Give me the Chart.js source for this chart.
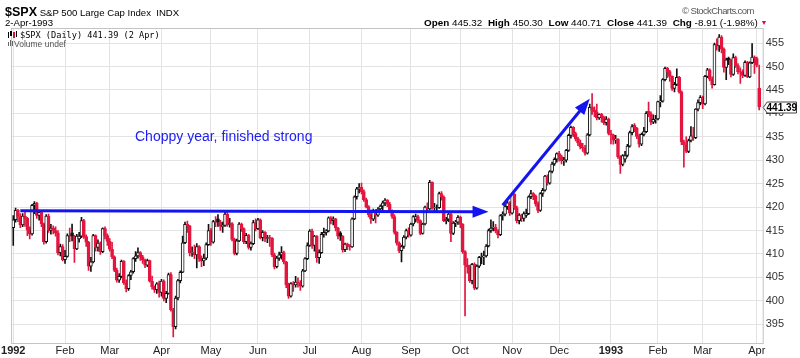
<!DOCTYPE html>
<html><head><meta charset="utf-8">
<script src="https://cdn.jsdelivr.net/npm/chart.js@4.4.1/dist/chart.umd.min.js"></script>
<style>
html,body{margin:0;padding:0;background:#fff;}
#wrap{position:relative;width:800px;height:358px;overflow:hidden;font-family:"Liberation Sans",Arial,sans-serif;color:#000;}
canvas{position:absolute;left:0;top:0;}
.t{position:absolute;white-space:nowrap;line-height:1;}
.i{position:absolute;}
.hd b{margin-left:3px;}
</style></head><body>
<div id="wrap">
<canvas id="c" width="800" height="358"></canvas>
<div class="t" style="left:5px;top:6px;font-size:9.6px;"><b style="font-size:12.5px;">$SPX</b> S&amp;P 500 Large Cap Index&nbsp; INDX</div>
<div class="t" style="left:5px;top:18px;font-size:9.6px;">2-Apr-1993</div>
<div class="t" style="left:682px;top:6px;font-size:9.5px;letter-spacing:-0.6px;color:#555;">© StockCharts.com</div>
<div class="t hd" style="left:421px;top:18px;font-size:9.9px;"><b>Open</b> 445.32 <b>High</b> 450.30 <b>Low</b> 440.71 <b>Close</b> 441.39 <b>Chg</b> -8.91 (-1.98%) <span style="color:#d0103a;font-size:7px;vertical-align:1px">▼</span></div>
<div class="i" style="left:8px;top:32px;width:1px;height:6px;background:#000"></div>
<div class="i" style="left:10px;top:31px;width:2px;height:5px;background:#000"></div>
<div class="i" style="left:13px;top:32px;width:2px;height:6px;background:#d0103a"></div>
<div class="i" style="left:16px;top:31px;width:1px;height:6px;background:#000"></div>
<div class="t" style="left:20px;top:31px;font-size:8.6px;font-family:'DejaVu Sans Mono','Liberation Mono',monospace;">$SPX (Daily) 441.39 (2 Apr)</div>
<div class="i" style="left:8px;top:42px;width:1px;height:4px;background:#666"></div>
<div class="i" style="left:10px;top:40px;width:1px;height:6px;background:#666"></div>
<div class="i" style="left:12px;top:41px;width:1px;height:5px;background:#666"></div>
<div class="t" style="left:14px;top:39.5px;font-size:8.5px;color:#555;">Volume undef</div>
<div class="t" style="left:135px;top:129px;font-size:14px;color:#1c1cf5;">Choppy year, finished strong</div>
</div>
<script>
// ---- daily OHLC values [open, high, low, close] ----
const jan92 = [
[415.6,418.2,411.8,417.3],[417.3,419.8,416.8,419.3],[419.3,419.5,416.9,418.0],[418.0,418.6,415.6,416.2],
[416.2,418.6,415.8,418.1],[418.1,418.9,415.9,417.6],[417.6,417.8,413.9,415.1],[415.1,415.8,413.2,414.3],
[414.3,420.6,414.0,420.4],[420.4,421.2,418.6,420.8],[420.8,421.0,417.6,418.2],[418.2,419.3,417.2,418.9],
[418.9,419.2,415.8,416.4],[416.4,416.6,412.1,412.6],[412.6,418.4,412.3,418.1],[418.1,418.5,414.6,415.0],
[415.0,416.3,414.2,415.5],[415.5,416.0,414.3,415.0],[415.0,415.8,413.8,414.5],[414.5,415.0,409.8,410.3],
[410.3,412.1,409.6,411.6],[411.6,412.0,408.5,408.8]];
const feb92 = [
[408.8,410.8,408.0,409.5],[409.5,414.3,409.3,413.9],[413.9,415.5,412.6,413.8],[414.5,416.4,412.8,413.8],
[413.8,414.0,408.2,411.1],[411.1,414.2,410.9,413.8],[413.2,414.6,412.5,413.8],[413.8,417.8,413.5,417.1],
[417.1,417.4,413.3,413.7],[413.7,414.1,411.6,412.5],[412.5,412.7,406.5,407.4],[407.4,409.3,406.3,408.3],
[408.3,414.2,408.1,413.9],[413.9,414.1,410.6,411.4],[411.4,413.0,410.6,412.3],[412.3,412.6,409.9,410.5],
[410.5,415.6,410.3,415.4],[415.4,415.8,413.2,413.9],[413.9,414.3,411.8,412.7]];
const mar92 = [
[412.7,413.3,410.6,411.0],[411.0,412.5,409.0,409.4],[409.4,409.6,406.2,406.5],[406.5,407.0,404.0,404.4],
[404.4,405.8,403.9,405.2],[405.2,408.7,404.9,408.4],[408.4,408.6,403.5,403.8],[403.8,404.5,401.9,402.6],
[402.6,405.6,402.2,405.4],[405.4,406.5,404.5,406.2],[406.2,409.2,405.9,409.0],[409.0,410.5,408.4,409.6],
[409.6,411.3,409.1,410.3],[410.3,410.5,408.6,409.4],[409.4,409.7,408.0,408.7],[408.7,408.9,407.1,407.6],
[407.6,408.9,407.3,408.6],[408.6,408.7,404.0,404.2],[404.2,405.3,402.5,403.0],[403.0,403.2,401.8,402.4],
[402.4,403.9,401.6,403.6],[403.6,404.2,400.8,401.8]];
const apr92 = [
[401.8,404.6,401.0,404.2],[404.2,404.5,400.0,400.5],[400.5,402.0,399.6,401.6],[401.6,405.9,401.4,405.6],
[405.6,406.0,397.8,398.1],[398.1,398.4,392.3,394.5],[394.5,401.0,394.0,400.6],[400.6,404.6,400.2,404.3],
[404.3,406.4,403.8,406.1],[406.1,413.8,406.0,412.4],[412.4,416.8,412.2,416.3],[416.3,417.0,414.6,416.0],
[416.0,416.1,409.6,410.2],[410.2,411.5,409.5,410.3],[410.3,411.9,409.0,409.8],[409.8,412.2,407.0,411.6],
[411.6,411.8,408.4,409.0],[409.0,409.6,407.3,408.5],[408.5,410.0,407.5,409.1],[409.1,412.4,408.8,412.0],
[412.0,416.3,411.8,415.0]];
const may92 = [
[415.0,415.4,411.8,412.5],[412.5,417.2,412.3,416.9],[416.9,418.0,415.8,416.8],[417.5,418.4,415.9,416.8],
[416.8,417.2,415.0,415.9],[415.9,416.8,414.6,416.1],[416.1,419.0,415.9,418.5],[418.5,419.1,415.9,416.3],
[416.3,417.6,415.7,416.5],[416.5,416.7,412.8,413.1],[413.1,413.4,409.8,410.1],[410.1,413.2,409.8,412.8],
[412.8,416.7,412.6,416.4],[416.4,416.6,414.8,415.4],[415.4,415.6,412.2,412.6],[412.6,414.4,412.2,414.0],
[414.0,414.2,411.0,411.4],[411.4,412.6,410.8,412.2],[412.2,417.2,412.0,416.7],[416.7,417.5,414.9,415.4]];
const jun92 = [
[415.4,417.6,415.2,417.3],[417.3,417.5,413.2,413.5],[413.5,415.0,412.8,414.6],[414.6,414.8,412.6,413.3],
[413.3,414.0,412.4,413.5],[413.5,414.0,411.6,413.4],[413.4,413.5,409.4,409.8],[409.8,410.2,406.8,407.3],
[407.3,409.5,407.0,409.1],[409.1,410.4,408.6,409.8],[409.8,411.6,408.9,410.3],[410.3,410.6,407.9,408.3],
[408.3,408.4,402.8,403.4],[403.4,403.8,400.5,401.0],[401.0,403.9,400.8,403.7],[403.7,404.1,402.0,403.4],
[403.4,405.2,402.9,404.0],[404.0,404.9,402.9,403.8],[403.8,404.3,402.2,403.1],[403.1,406.7,402.9,406.4],
[406.4,409.2,406.2,409.0],[409.0,412.4,408.8,411.8]];
const jul92 = [
[411.8,415.2,411.6,414.9],[414.9,415.3,411.2,411.8],[411.8,414.0,410.6,413.8],[413.8,413.9,408.2,409.2],
[409.2,410.9,408.0,410.3],[410.3,414.6,410.1,414.2],[414.2,415.5,413.6,414.6],[414.6,415.2,414.0,414.9],
[414.9,417.9,414.7,417.7],[417.7,418.0,416.4,417.1],[417.1,417.9,416.2,417.5],[417.5,417.6,414.9,415.6],
[415.6,415.7,413.2,413.8],[414.5,414.8,412.9,413.8],[413.8,413.9,410.4,410.9],[410.9,412.3,410.5,412.1],
[412.1,412.3,410.9,411.6],[411.6,412.0,410.8,411.5],[411.5,417.7,411.4,417.5],[417.5,422.4,417.3,422.2],
[422.2,424.2,421.7,423.9],[423.9,425.0,423.0,424.2]];
const aug92 = [
[424.2,425.1,422.8,423.3],[423.3,423.7,421.2,421.6],[421.6,421.9,419.8,420.1],[420.1,420.3,417.9,418.4],
[418.4,419.4,416.5,417.4],[417.4,419.6,417.1,419.2],[419.2,419.5,416.6,418.3],[418.3,419.9,418.0,419.6],
[419.6,420.5,419.2,420.2],[420.2,421.3,419.0,420.9],[420.9,421.8,420.3,421.5],[421.5,421.6,420.1,420.6],
[420.6,421.0,418.8,419.1],[419.1,419.4,417.6,418.0],[418.0,418.4,414.2,414.6],[414.6,414.8,411.9,412.3],
[412.3,412.6,410.3,410.7],[410.7,411.9,408.3,411.6],[411.6,413.9,411.2,413.6],[413.6,415.3,413.2,415.0],
[415.0,415.6,413.6,414.0]];
const sep92 = [
[414.0,416.6,413.8,416.4],[416.4,418.2,416.0,418.0],[417.4,418.5,416.8,418.0],[418.0,418.3,416.6,417.1],
[417.1,417.3,414.1,414.4],[414.4,416.6,414.2,416.4],[416.4,420.2,416.2,420.0],[420.0,420.9,419.1,419.6],
[419.6,425.7,419.4,425.3],[425.3,425.4,419.5,419.8],[419.8,420.8,419.0,419.9],[419.9,420.5,419.1,419.9],
[419.9,423.2,419.7,422.9],[422.9,423.3,421.5,422.1],[422.1,422.4,416.9,417.1],[417.1,417.8,416.4,417.4],
[417.4,418.9,416.9,418.5],[418.5,418.7,412.6,414.4],[414.4,416.9,414.1,416.6],[416.6,417.2,415.8,416.8],
[416.8,418.2,416.3,417.8]];
const oct92 = [
[417.8,418.1,415.6,416.3],[416.3,416.5,410.1,410.5],[410.5,410.7,396.8,407.6],[407.6,409.0,405.9,407.2],
[407.2,407.6,403.9,404.3],[404.3,408.0,403.6,407.8],[407.8,408.1,402.4,402.7],[402.7,407.7,402.5,407.4],
[407.4,409.5,407.1,409.3],[409.3,410.2,407.9,409.4],[409.4,410.6,407.7,409.6],[409.6,412.0,409.3,411.7],
[411.7,415.3,411.5,415.0],[415.0,417.3,414.6,415.5],[415.5,416.9,414.9,415.7],[415.7,416.3,414.5,414.9],
[414.9,415.2,413.4,414.1],[414.1,418.4,413.9,418.2],[418.2,419.0,417.2,418.5],[418.5,420.6,418.1,420.1],
[420.1,421.3,419.5,420.9],[420.9,421.2,418.2,418.7]];
const nov92 = [
[418.7,422.9,418.5,422.7],[422.7,422.9,419.5,419.9],[419.9,420.2,416.6,417.1],[417.1,418.6,416.4,418.3],
[418.3,418.5,416.9,417.6],[417.6,419.0,417.0,418.6],[418.2,419.6,417.8,418.6],[418.6,422.4,418.4,422.2],
[422.2,423.6,421.8,422.9],[422.9,423.1,421.6,422.4],[422.4,422.6,420.2,420.7],[420.7,421.1,418.8,419.3],
[419.3,423.1,419.1,422.9],[422.9,424.0,422.3,423.6],[423.6,426.8,423.4,426.6],[426.6,426.9,424.7,425.1],
[425.1,427.8,424.9,427.6],[427.6,429.6,427.3,429.2],[429.2,430.5,428.9,430.2],[430.2,431.6,429.6,431.4]];
const dec92 = [
[431.4,431.9,429.8,430.8],[430.8,431.1,429.2,429.9],[429.9,430.6,428.9,430.0],[430.0,432.3,429.6,432.1],
[432.1,435.6,431.9,435.3],[435.3,437.3,434.7,437.0],[437.0,437.2,435.0,435.7],[435.7,436.0,434.1,434.6],
[434.6,434.9,433.1,433.7],[433.7,434.3,432.4,432.8],[432.8,433.6,431.9,432.6],[432.6,433.2,431.1,431.5],
[431.5,435.7,431.3,435.4],[435.4,442.0,435.2,441.3],[441.3,444.2,439.8,440.7],[440.7,441.4,439.3,440.3],
[440.3,442.0,438.6,439.0],[439.0,439.9,438.7,439.8],[439.8,440.0,438.1,439.2],[439.2,439.4,437.6,438.0],
[438.0,439.3,437.5,438.8],[438.8,439.0,435.4,435.7]];
const jan93 = [
[435.7,436.4,433.5,435.4],[435.4,435.6,433.4,434.3],[434.3,435.3,433.6,434.5],[434.5,434.6,430.4,430.7],
[430.7,431.0,427.2,429.1],[429.1,431.2,428.8,431.0],[430.2,431.9,429.6,431.0],[431.0,433.4,430.7,433.0],
[433.0,436.2,432.8,435.9],[435.9,437.6,435.4,437.2],[437.5,437.8,436.1,436.8],[436.8,437.0,434.6,435.1],
[435.1,435.6,432.8,433.4],[433.4,435.8,433.1,435.5],[435.5,437.0,435.2,436.1],[436.1,440.4,435.9,440.0],
[440.5,442.4,439.3,439.9],[439.9,440.3,437.6,438.1],[438.1,439.7,437.8,438.7],[438.7,439.6,437.9,438.8]];
const feb93 = [
[438.8,442.6,438.6,442.5],[442.5,443.8,441.4,442.6],[442.6,447.4,442.4,447.2],[447.2,449.9,446.9,449.6],
[449.6,449.8,447.6,448.9],[448.9,449.2,446.8,447.9],[447.9,448.0,444.9,445.3],[445.3,446.6,444.6,446.2],
[446.2,449.5,445.9,447.7],[447.7,447.9,444.3,444.6],[444.6,444.8,433.3,433.9],[433.9,434.3,428.5,433.3],
[433.3,435.0,431.6,431.9],[431.9,434.5,431.6,434.2],[434.2,437.2,433.9,435.2],[435.2,437.0,434.2,434.8],
[434.8,441.0,434.6,440.9],[440.9,442.9,440.5,442.3],[442.3,443.8,441.8,443.4]];
const mar93 = [
[443.4,443.7,441.0,442.0],[442.0,448.1,441.8,447.9],[447.9,449.6,447.6,449.3],[449.3,449.5,446.9,447.3],
[447.3,447.8,445.4,446.1],[446.1,455.0,446.0,454.7],[454.7,455.9,453.5,454.4],[454.4,456.8,453.2,456.3],
[456.3,456.6,452.9,453.7],[453.7,454.0,448.8,449.8],[449.8,451.8,447.2,451.4],[451.8,452.0,450.4,451.4],
[451.4,451.6,447.8,448.3],[448.3,452.7,448.1,451.9],[451.9,452.2,449.8,450.2],[450.2,450.6,448.4,448.9],
[448.9,449.7,446.4,448.8],[448.8,449.3,447.6,448.1],[448.1,451.2,447.9,450.9],[450.9,451.1,447.6,447.8],
[447.8,451.0,447.6,450.8],[450.8,454.9,450.6,452.0],[452.0,452.3,448.5,451.7]];
const apr93 = [
[451.7,452.0,449.9,450.3],[445.32,450.30,440.71,441.39]];

const months = [jan92,feb92,mar92,apr92,may92,jun92,jul92,aug92,sep92,oct92,nov92,dec92,jan93,feb93,mar93,apr93];
const monthLabels = ['1992','Feb','Mar','Apr','May','Jun','Jul','Aug','Sep','Oct','Nov','Dec','1993','Feb','Mar','Apr'];
const yTickValues = [395,400,405,410,415,420,425,430,435,440,445,450,455];
const lastClose = 441.39;
// annotation arrows: [startIndex, startPrice, endIndex, endPrice]
const flatArrow = [3, 419.2, 202, 419.0];
const riseArrow = [208, 420.4, 245, 443.1];

const bars = [].concat(...months);
const monthStarts = [];
{ let n = 0; months.forEach(m => { monthStarts.push(n); n += m.length; }); }
const labels = bars.map((_, i) => String(i)).concat(['']);

const RED = '#e3163f', BLK = '#111111';
const lineCol = bars.map((b, i) => (i > 0 && b[3] < bars[i-1][3]) ? RED : BLK);
const bodyFill = bars.map((b, i) => b[3] > b[0] ? '#ffffff' : lineCol[i]);
const bodies = bars.map(b => [Math.min(b[0], b[3]), Math.max(b[0], b[3])]);
const wicks = bars.map(b => [b[2], b[1]]);

function drawArrow(ctx, x1, y1, x2, y2) {
  const a = Math.atan2(y2 - y1, x2 - x1), L = 16, W = 6;
  const bx = x2 - L * Math.cos(a), by = y2 - L * Math.sin(a);
  ctx.beginPath(); ctx.moveTo(x1, y1); ctx.lineTo(bx + Math.cos(a), by + Math.sin(a)); ctx.stroke();
  ctx.beginPath(); ctx.moveTo(x2, y2);
  ctx.lineTo(bx - W * Math.sin(a), by + W * Math.cos(a));
  ctx.lineTo(bx + W * Math.sin(a), by - W * Math.cos(a));
  ctx.closePath(); ctx.fill();
}

const extras = {
  id: 'extras',
  beforeDatasetsDraw(chart) {
    const { ctx, chartArea: ca } = chart;
    ctx.save();
    ctx.strokeStyle = '#c4c4c4'; ctx.lineWidth = 1;
    ctx.strokeRect(ca.left - 0.5, ca.top - 0.5, ca.right - ca.left + 1, ca.bottom - ca.top + 1);
    ctx.restore();
  },
  afterDatasetsDraw(chart) {
    const { ctx, scales: { x, y } } = chart;
    ctx.save();
    ctx.strokeStyle = '#1414f0'; ctx.fillStyle = '#1414f0'; ctx.lineWidth = 3;
    [flatArrow, riseArrow].forEach(a => drawArrow(ctx,
      x.getPixelForValue(a[0]), y.getPixelForValue(a[1]),
      x.getPixelForValue(a[2]), y.getPixelForValue(a[3])));
    ctx.restore();
  },
  afterDraw(chart) {
    const { ctx, chartArea: ca, scales: { y } } = chart;
    const py = Math.round(y.getPixelForValue(lastClose)) + 0.5;
    const l = ca.right + 0.5, r = 796.5, h = 5.5;
    ctx.save();
    ctx.beginPath();
    ctx.moveTo(l, py); ctx.lineTo(l + 4, py - h); ctx.lineTo(r, py - h);
    ctx.lineTo(r, py + h); ctx.lineTo(l + 4, py + h); ctx.closePath();
    ctx.fillStyle = '#fff'; ctx.fill();
    ctx.strokeStyle = '#444'; ctx.lineWidth = 1; ctx.stroke();
    ctx.fillStyle = '#000'; ctx.font = 'bold 10px "Liberation Sans", Arial, sans-serif';
    ctx.textBaseline = 'middle'; ctx.textAlign = 'center';
    ctx.fillText(lastClose.toFixed(2), (l + 4 + r) / 2, py + 0.5);
    ctx.restore();
  }
};

new Chart(document.getElementById('c'), {
  type: 'bar',
  data: {
    labels,
    datasets: [
      { label: 'body', data: bodies, backgroundColor: bodyFill, borderColor: lineCol,
        borderWidth: 1, borderSkipped: false, barThickness: 3, grouped: false, order: 1 },
      { label: 'wick', data: wicks, backgroundColor: lineCol, borderWidth: 0,
        barThickness: 1, grouped: false, order: 2 }
    ]
  },
  options: {
    responsive: false, animation: false, events: [],
    layout: { padding: { left: 8, top: 29, right: 0, bottom: 0 } },
    plugins: { legend: { display: false }, tooltip: { enabled: false } },
    scales: {
      x: {
        offset: true,
        grid: { offset: false, color: '#e3e3e3', drawTicks: false },
        border: { display: false },
        ticks: {
          autoSkip: false, maxRotation: 0, padding: 1, color: '#222',
          font: ctx => ({ family: '"Liberation Sans", Arial, sans-serif', size: 11,
                          weight: /^\d/.test(monthLabels[ctx.index] || '') ? 'bold' : 'normal' }),
          callback: (v, i) => monthLabels[i]
        },
        afterBuildTicks: s => { s.ticks = monthStarts.map(v => ({ value: v })); },
        afterFit: s => { s.height = 15; }
      },
      y: {
        position: 'right', min: 391, max: 458,
        grid: { color: '#e3e3e3', drawTicks: false },
        border: { display: false },
        ticks: { padding: 3, color: '#333', font: { family: '"Liberation Sans", Arial, sans-serif', size: 11 } },
        afterBuildTicks: s => { s.ticks = yTickValues.map(v => ({ value: v })); },
        afterFit: s => { s.width = 37.3; }
      }
    }
  },
  plugins: [extras]
});
</script>
</body></html>
